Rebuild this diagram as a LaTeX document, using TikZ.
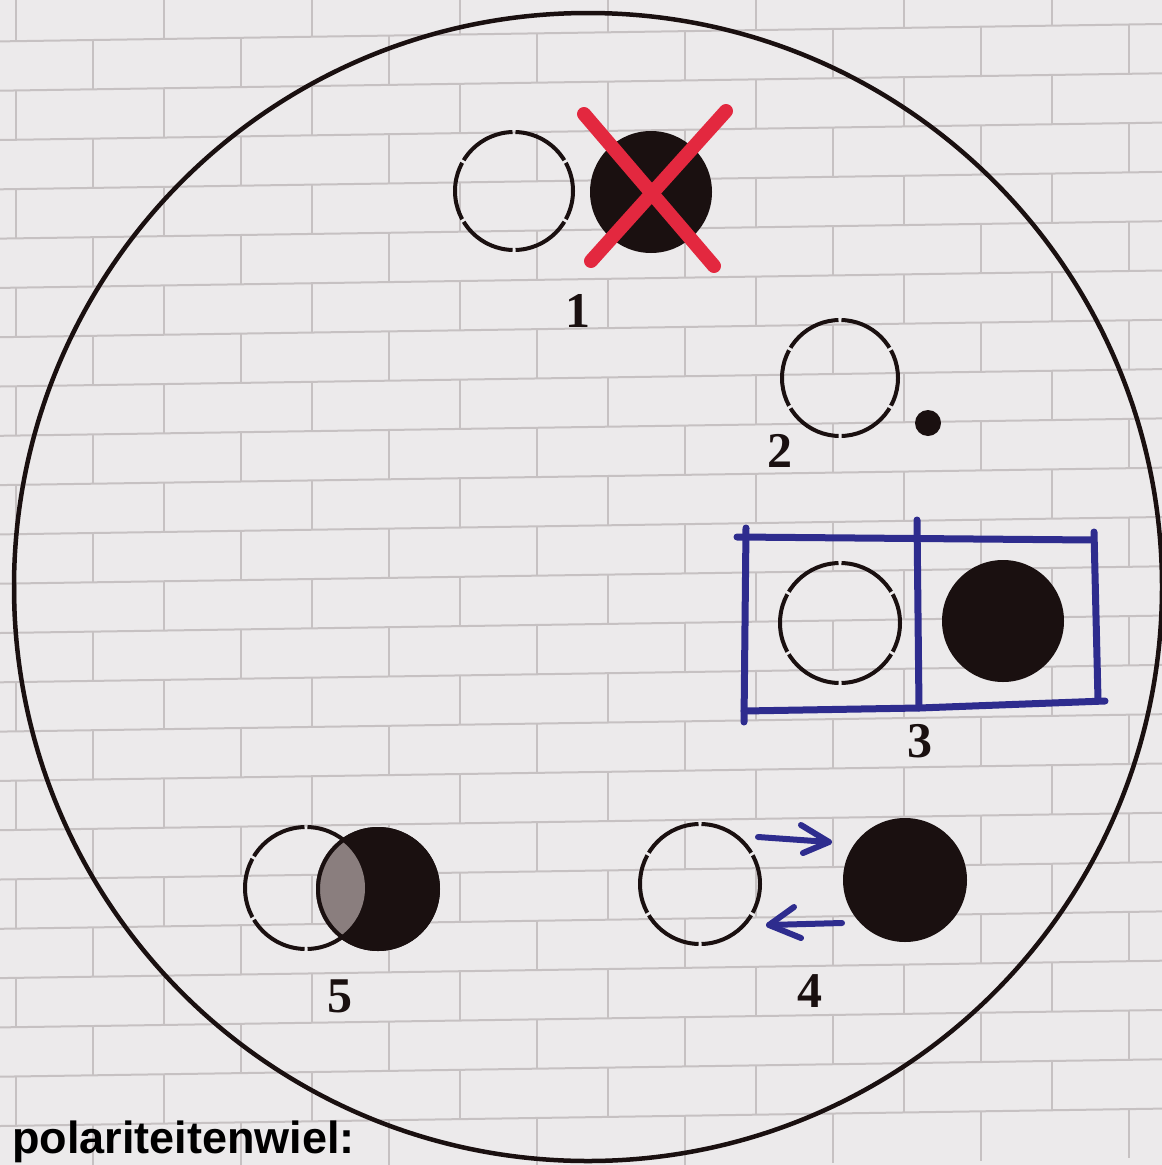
\documentclass[tikz,border=0pt]{standalone}
\usepackage{fontspec}
\newfontfamily\digitfont{Liberation Serif}
\newfontfamily\capfont{Liberation Sans}
\definecolor{wall}{HTML}{ECEAEB}
\definecolor{mortarc}{HTML}{C6C1C2}
\definecolor{ink}{HTML}{1A1010}
\definecolor{bluec}{HTML}{2E2C8E}
\definecolor{redc}{HTML}{E3283F}
\definecolor{lensc}{HTML}{8A7E7E}
\begin{document}
\begin{tikzpicture}[x=1pt,y=-1pt,
  mortar/.style={draw=mortarc, line width=2pt},
  opencirc/.style={circle, draw=ink, line width=4pt, inner sep=0pt, outer sep=0pt},
  solidcirc/.style={circle, fill=ink, inner sep=0pt, outer sep=0pt},
  redx/.style={draw=redc, line width=14pt, line cap=round},
  bluepen/.style={draw=bluec, line width=7pt, line cap=round, line join=round},
  arrowpen/.style={draw=bluec, line width=6pt, line cap=round, line join=round},
  numlab/.style={font=\digitfont\bfseries\fontsize{50}{50}\selectfont, text=ink, inner sep=0pt},
  wheelline/.style={draw=ink, line width=4.5pt}
]
\useasboundingbox (0,0) rectangle (1162,1165);
\clip (0,0) rectangle (1162,1165);
\fill[wall] (0,0) rectangle (1162,1165);
% brick wall
\foreach \k in {0,...,23}{
  \draw[mortar] (0,{1126-49.3*\k}) -- (1162,{1108.6-49.3*\k});
}
\foreach \k in {-1,...,22}{
  \pgfmathtruncatemacro\rowpar{mod(\k+2,2)}
  \pgfmathsetmacro\off{16+77*\rowpar}
  \foreach \m in {0,...,7}{
    \pgfmathsetmacro\xx{\off+148*\m}
    \draw[mortar] (\xx,{1126-0.015*\xx-49.3*(\k+1)}) -- (\xx,{1126-0.015*\xx-49.3*\k});
  }
}
% the wheel
\node[circle, wheelline, minimum size=1148pt, inner sep=0pt] (wheel) at (588,587) {};

% 1
\node[opencirc, minimum size=118pt, dash pattern=on 58.78pt off 3pt, dash phase=29.39pt] (c1a) at (514,191) {};
\node[solidcirc, minimum size=122pt] (c1b) at (651,192) {};
\coordinate (x1a) at (584,114);
\coordinate (x1b) at (714,266);
\coordinate (x2a) at (726,111);
\coordinate (x2b) at (591,261);
\draw[redx] (x1a) -- (x1b);
\draw[redx] (x2a) -- (x2b);
\node[numlab] (l1) at (578,311) {1};

% 2
\node[opencirc, minimum size=116pt, dash pattern=on 57.74pt off 3pt, dash phase=28.87pt] (c2) at (840,378) {};
\node[solidcirc, minimum size=26pt] (d2) at (928,423) {};
\node[numlab] (l2) at (780,451) {2};

% 3
\coordinate (b1) at (746,528);
\coordinate (b2) at (744,722);
\coordinate (b3) at (737,537);
\coordinate (b4) at (1093,540);
\coordinate (b5) at (917,520);
\coordinate (b6) at (919,708);
\coordinate (b7) at (1094,532);
\coordinate (b8) at (1098,700);
\coordinate (b9) at (744,711);
\coordinate (b10) at (1105,701);
\draw[bluepen] (b1) -- (b2);
\draw[bluepen] (b3) -- (b4);
\draw[bluepen] (b5) -- (b6);
\draw[bluepen] (b7) -- (b8);
\draw[bluepen] (b9) -- (b6) -- (b10);
\node[opencirc, minimum size=120pt, dash pattern=on 59.83pt off 3pt, dash phase=29.92pt] (c3a) at (840,623) {};
\node[solidcirc, minimum size=122pt] (c3b) at (1003,621) {};
\node[numlab] (l3) at (920,741) {3};

% 4
\node[opencirc, minimum size=120pt, dash pattern=on 59.83pt off 3pt, dash phase=29.92pt] (c4a) at (700,884) {};
\node[solidcirc, minimum size=124pt] (c4b) at (905,880) {};
\coordinate (a1s) at (758,837);
\coordinate (a1t) at (829,842);
\coordinate (a1u) at (801,825);
\coordinate (a1d) at (803,853);
\draw[arrowpen] (a1s) -- (a1t);
\draw[arrowpen] (a1u) -- (a1t) -- (a1d);
\coordinate (a2s) at (842,923);
\coordinate (a2t) at (769,925);
\coordinate (a2u) at (794,907);
\coordinate (a2d) at (801,938);
\draw[arrowpen] (a2s) -- (a2t);
\draw[arrowpen] (a2u) -- (a2t) -- (a2d);
\node[numlab] (l4) at (810,991) {4};

% 5
\node[opencirc, minimum size=122pt, dash pattern=on 60.88pt off 3pt, dash phase=30.44pt] (c5a) at (306,888) {};
\node[solidcirc, minimum size=124pt] (c5b) at (378,889) {};
\begin{scope}
  \clip (c5a.center) circle[radius=59pt];
  \fill[lensc] (c5b.center) circle[radius=62pt];
\end{scope}
\draw[ink, line width=4pt] (c5b.center) circle[radius=60pt];
\node[numlab] (l5) at (340,996) {5};

% caption
\node[anchor=base west, inner sep=0pt, text=black, font=\capfont\bfseries\fontsize{45}{45}\selectfont] (title) at (12,1153) {polariteitenwiel:};
\end{tikzpicture}
\end{document}
